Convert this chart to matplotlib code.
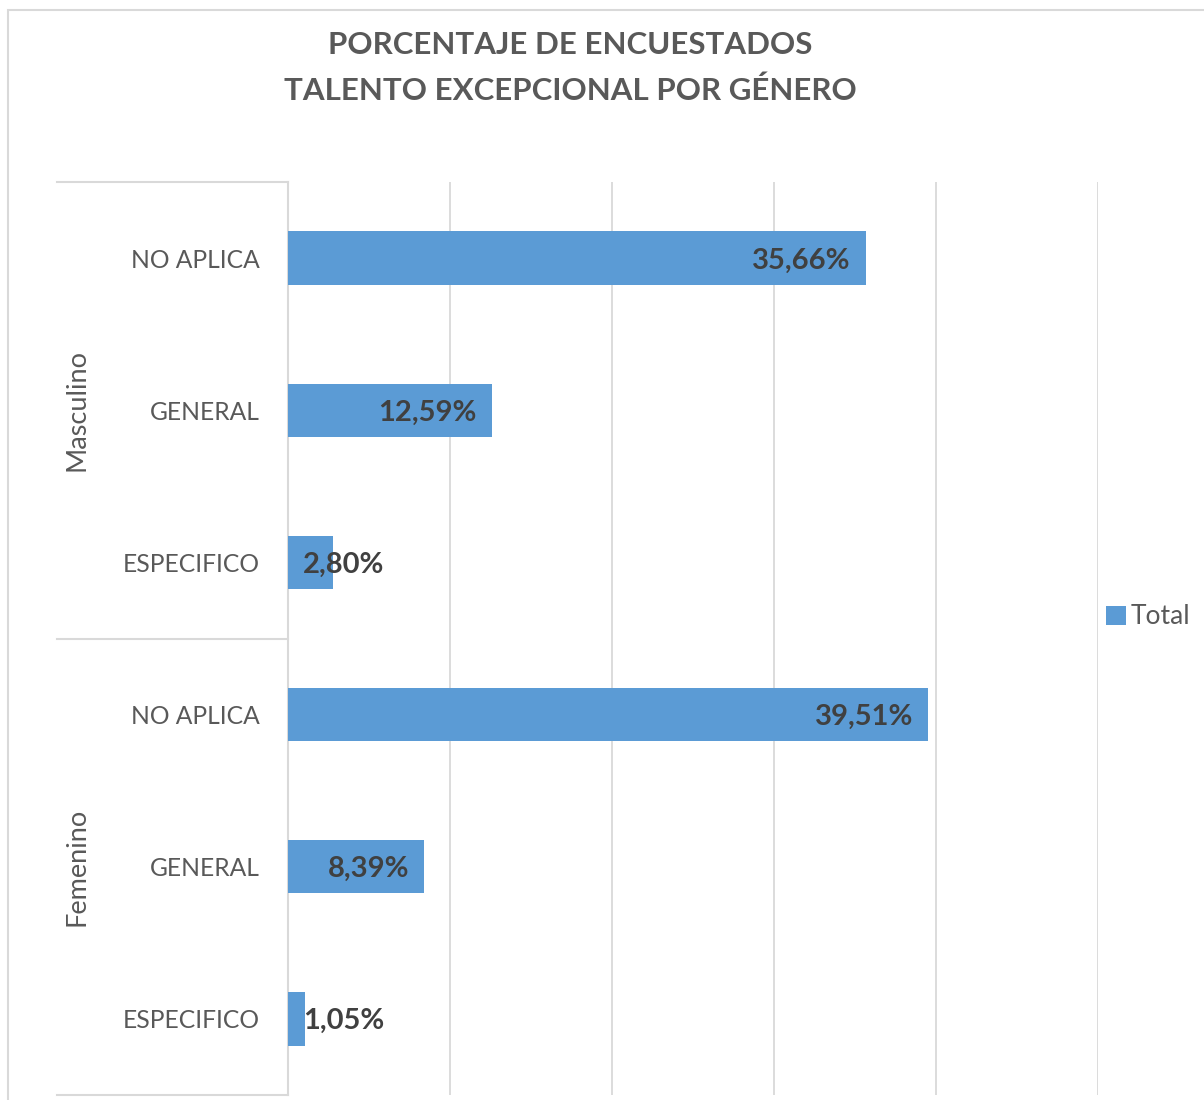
import matplotlib.pyplot as plt
from matplotlib.patches import Rectangle
from matplotlib.transforms import blended_transform_factory

plt.rcParams['font.family'] = ['Lato', 'DejaVu Sans']

groups = ["Masculino", "Femenino"]
categories = ["NO APLICA", "GENERAL", "ESPECIFICO"]
masculino = [35.66, 12.59, 2.80]
femenino = [39.51, 8.39, 1.05]
x_ticks = [0, 10, 20, 30, 40, 50]

BAR = "#5B9BD5"
TXT = "#595959"
GRID = "#D9D9D9"

labels = categories + categories
values = masculino + femenino
ypos = list(range(len(values)))

fig = plt.figure(figsize=(12.04, 11.0), dpi=100)
W, H = 1204, 1100
ax = fig.add_axes([288 / W, 1 - 1095 / H, 810 / W, (1095 - 182) / H])

# outer chart border
fig.patches.append(Rectangle((8 / W, -0.02), 1.1, 1 - 10 / H + 0.02,
                             transform=fig.transFigure, fill=False,
                             edgecolor=GRID, linewidth=1.5))

bars = ax.barh(ypos, values, height=0.35, color=BAR, label="Total", zorder=3)
ax.set_xlim(x_ticks[0], x_ticks[-1])
ax.set_ylim(len(values) - 0.5, -0.5)
ax.set_xticks(x_ticks[1:])
ax.set_xticklabels([])
ax.tick_params(axis="x", length=0)
ax.grid(axis="x", color=GRID, linewidth=1.3, zorder=0)
ax.set_yticks(ypos)
ax.set_yticklabels(labels, fontsize=17.7, color=TXT)
ax.tick_params(axis="y", length=0, pad=20.5)
for s in ["top", "right", "bottom"]:
    ax.spines[s].set_visible(False)
ax.spines["left"].set_color(GRID)
ax.spines["left"].set_linewidth(1.5)

# group separators and labels
tr = blended_transform_factory(ax.transAxes, ax.transData)
x0 = (57 - 288) / 810
for yb in [-0.5, 2.5, 5.5]:
    ax.plot([x0, 0], [yb, yb], transform=tr, color=GRID, lw=1.5, clip_on=False)
for i, g in enumerate(groups):
    ax.text((77 - 288) / 810, i * 3 + 1, g, transform=tr, rotation=90,
            ha="center", va="center", fontsize=19.5, color=TXT)

# data labels
px_per_unit = 810 / (x_ticks[-1] - x_ticks[0])
pad = 15 / px_per_unit
for y, v in zip(ypos, values):
    txt = f"{v:.2f}%".replace(".", ",")
    if v * px_per_unit > 120:
        ax.text(v - pad, y + 0.015, txt, ha="right", va="center", fontsize=21,
                fontweight="bold", color="#404040", zorder=4)
    else:
        ax.text(pad, y + 0.015, txt, ha="left", va="center", fontsize=21,
                fontweight="bold", color="#404040", zorder=4)

fig.text(570 / W, 1 - 68 / H, "PORCENTAJE DE ENCUESTADOS\nTALENTO EXCEPCIONAL POR GÉNERO",
         ha="center", va="center", fontsize=22.5, fontweight="bold", color=TXT,
         linespacing=1.75)

fig.legend(handles=[bars], labels=["Total"], loc="center left",
           bbox_to_anchor=(1082 / W, 1 - 617 / H), frameon=False,
           fontsize=19, labelcolor=TXT, handlelength=0.75, handleheight=0.75,
           handletextpad=0.2)

fig.savefig("out.png", dpi=100)
